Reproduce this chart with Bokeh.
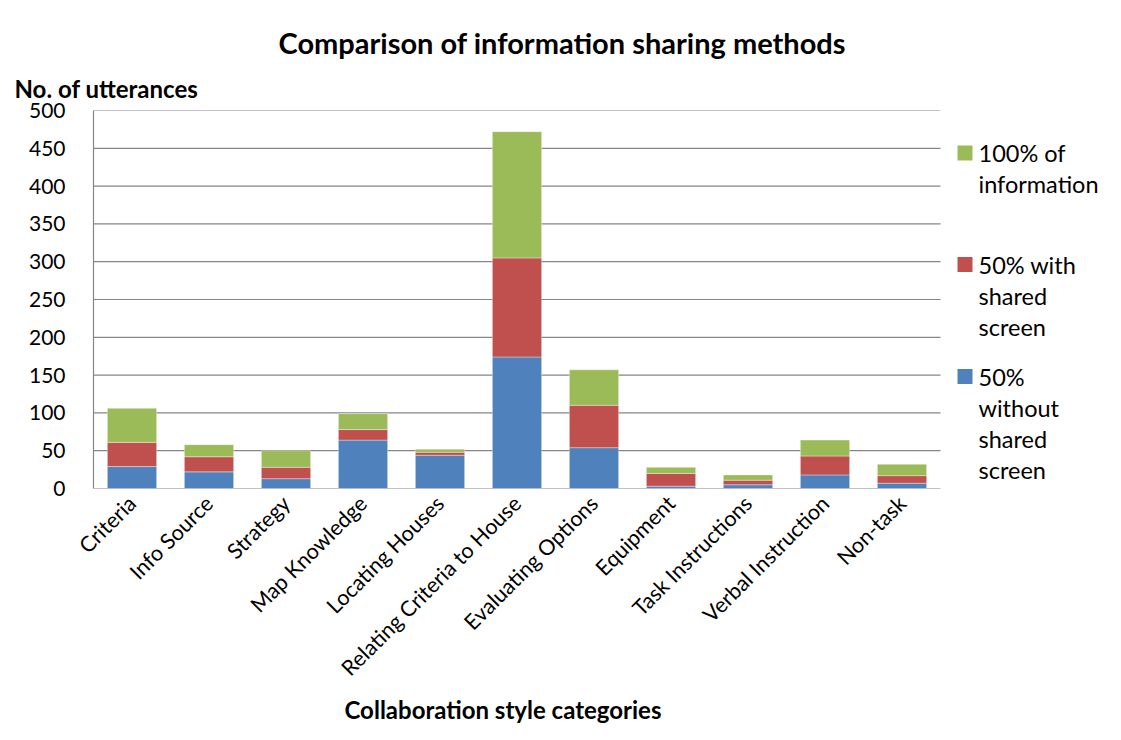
from bokeh.plotting import figure
from bokeh.models import Range1d, FixedTicker, Title, ColumnDataSource
from bokeh.core.properties import value
from bokeh.embed import file_html
from bokeh.resources import INLINE
import math

categories = ["Criteria", "Info Source", "Strategy", "Map Knowledge", "Locating Houses",
              "Relating Criteria to House", "Evaluating Options", "Equipment",
              "Task Instructions", "Verbal Instruction", "Non-task"]
without_shared = [29, 22, 13, 64, 44, 174, 54, 3, 5, 18, 7]
with_shared = [32, 20, 15, 14, 4, 131, 56, 17, 6, 25, 10]
full_info = [45, 16, 22, 21, 4, 167, 47, 8, 7, 21, 15]
series_keys = ["without", "with", "full"]
colors = ["#4F81BD", "#C0504D", "#9BBB59"]
y_ticks = list(range(0, 501, 50))

FONT = "Lato"
W, H = 1105, 724
LEFT, TOP, BOTTOM_PX = 93, 110, 488
CAT_PX = 77.0
PX_PER_UNIT = (BOTTOM_PX - TOP) / 500.0


def xd(px):
    return -0.5 + (px - LEFT) / CAT_PX


def yd(py):
    return (BOTTOM_PX - py) / PX_PER_UNIT


xs = list(range(len(categories)))
source = ColumnDataSource(dict(x=xs, without=without_shared, full=full_info, **{"with": with_shared}))

p = figure(width=W, height=H, output_backend="svg", toolbar_location=None,
           x_range=Range1d(-0.5, xd(W)), y_range=Range1d(0, 500),
           min_border_left=LEFT, min_border_right=0, min_border_top=TOP,
           min_border_bottom=H - BOTTOM_PX,
           title="Comparison of information sharing methods")
p.outline_line_color = None
p.xgrid.grid_line_color = None
p.ygrid.grid_line_color = None

# main title
p.title.align = "left"
p.title.offset = 278 - LEFT
p.title.text_font = FONT
p.title.text_font_size = "29px"
p.title.text_font_style = "bold"
p.title.text_color = "black"
p.title.standoff = 9

# y axis title (horizontal, above the frame)
p.add_layout(Title(text="No. of utterances", align="left", offset=14 - LEFT,
                   text_font=FONT, text_font_size="24px", text_font_style="bold",
                   text_color="black", standoff=15), "above")

# grid lines restricted to the category area
p.segment(x0=[-0.5] * len(y_ticks), x1=[len(categories) - 0.5] * len(y_ticks),
          y0=y_ticks, y1=y_ticks, line_color="#868686", line_width=1.2)

p.vbar_stack(series_keys, x="x", width=0.64, source=source, color=colors,
             line_color="white", line_width=0.6, line_alpha=0.6)

# axes
p.xaxis.ticker = FixedTicker(ticks=xs)
p.xaxis.major_label_overrides = {i: c for i, c in enumerate(categories)}
p.xaxis.major_label_orientation = math.pi / 4
p.xaxis.axis_line_color = None
p.xaxis.major_tick_line_color = None
p.xaxis.minor_tick_line_color = None
p.xaxis.major_label_text_font = FONT
p.xaxis.major_label_text_font_size = "21.5px"
p.xaxis.major_label_text_color = "black"
p.xaxis.major_label_standoff = 5

p.yaxis.ticker = FixedTicker(ticks=y_ticks)
p.yaxis.axis_line_color = "#868686"
p.yaxis.axis_line_width = 1.2
p.yaxis.major_tick_line_color = None
p.yaxis.minor_tick_line_color = None
p.yaxis.major_label_text_font = FONT
p.yaxis.major_label_text_font_size = "21px"
p.yaxis.major_label_text_color = "black"
p.yaxis.major_label_standoff = 22

# x axis title
p.add_layout(Title(text="Collaboration style categories", align="left", offset=344 - LEFT,
                   text_font=FONT, text_font_size="24px", text_font_style="bold",
                   text_color="black", standoff=0), "below")

# legend (manual, to mimic wrapped entries)
legend_lines = [["100% of", "information"], ["50% with", "shared", "screen"],
                ["50%", "without", "shared", "screen"]]
legend_colors = [colors[2], colors[1], colors[0]]
legend_top_px = [152.5, 264.0, 376.0]
LINE_PX = 31.3
p.scatter(x=[xd(964.5)] * 3, y=[yd(v) for v in legend_top_px], marker="square",
          size=15, color=legend_colors, line_color=None)
tx, ty, tt = [], [], []
for lines, top in zip(legend_lines, legend_top_px):
    for k, t in enumerate(lines):
        tx.append(xd(978))
        ty.append(yd(top + k * LINE_PX))
        tt.append(t)
p.text(x=tx, y=ty, text=tt, text_font=value(FONT), text_font_size="23.5px",
       text_align="left", text_baseline="middle", text_color="black")

open("out.html", "w").write(file_html(p, INLINE))
